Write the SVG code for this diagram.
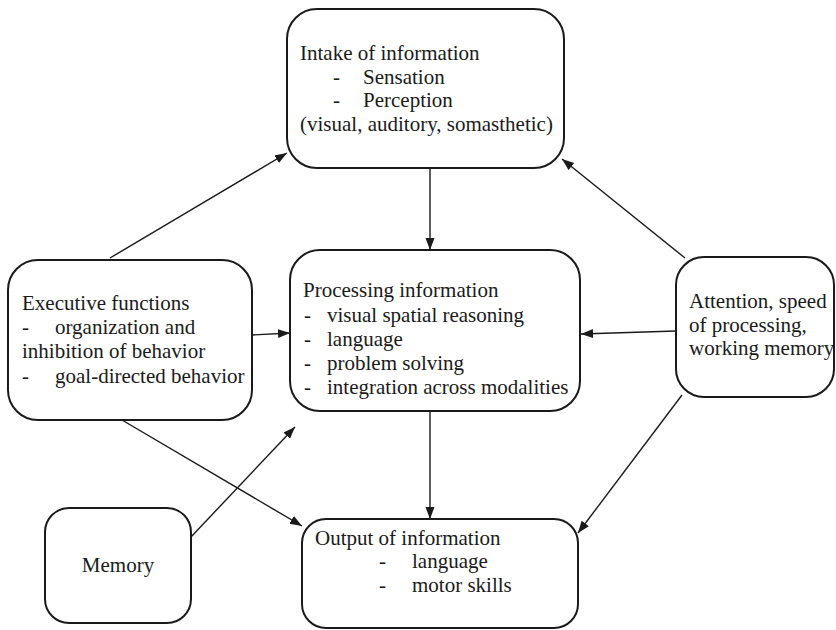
<svg xmlns="http://www.w3.org/2000/svg" width="836" height="630" viewBox="0 0 836 630">
<style>
.box{fill:#fff;stroke:#1a1a1a;stroke-width:2}
text{font-family:'Liberation Serif','DejaVu Serif',serif;font-size:21px;fill:#1a1a1a}
.c{stroke:#1a1a1a;stroke-width:1.4;fill:none;marker-end:url(#ah)}
</style>
<defs>
<marker id="ah" markerUnits="userSpaceOnUse" markerWidth="13" markerHeight="10" refX="12" refY="4.5" orient="auto">
<path d="M0,0 L12,4.5 L0,9 z" fill="#1a1a1a"/>
</marker>
</defs>
<rect width="836" height="630" fill="#fff"/>
<g id="connectors">
<line class="c" x1="110" y1="258" x2="287" y2="153"/>
<line class="c" x1="685" y1="258" x2="562" y2="159"/>
<line class="c" x1="430" y1="168" x2="430" y2="250"/>
<line class="c" x1="252" y1="335" x2="290" y2="333"/>
<line class="c" x1="676" y1="331" x2="581" y2="334"/>
<line class="c" x1="190" y1="538" x2="295" y2="427"/>
<line class="c" x1="122" y1="420" x2="302" y2="526"/>
<line class="c" x1="430" y1="411" x2="430" y2="519"/>
<line class="c" x1="682" y1="395" x2="578" y2="533"/>
</g>
<g id="intake" font-family="Liberation Serif, serif">
<rect class="box" x="287" y="9" width="277" height="159" rx="30" ry="30"/>
<text x="300" y="60">Intake of information</text>
<text x="333" y="84">-</text><text x="363" y="84">Sensation</text>
<text x="333" y="107">-</text><text x="363" y="107">Perception</text>
<text x="300" y="131">(visual, auditory, somasthetic)</text>
</g>
<g id="processing">
<rect class="box" x="290" y="250" width="290" height="161" rx="30" ry="30"/>
<text x="303" y="297">Processing information</text>
<text x="304" y="322">-</text><text x="327" y="322">visual spatial reasoning</text>
<text x="304" y="346">-</text><text x="327" y="346">language</text>
<text x="304" y="370">-</text><text x="327" y="370">problem solving</text>
<text x="304" y="394">-</text><text x="327" y="394">integration across modalities</text>
</g>
<g id="executive">
<rect class="box" x="8" y="260" width="244" height="160" rx="30" ry="30"/>
<text x="22" y="310">Executive functions</text>
<text x="22" y="334">-</text><text x="55" y="334">organization and</text>
<text x="22" y="358">inhibition of behavior</text>
<text x="22" y="383">-</text><text x="55" y="383">goal-directed behavior</text>
</g>
<g id="attention">
<rect class="box" x="676" y="257" width="158" height="140" rx="28" ry="28"/>
<text x="689" y="308">Attention, speed</text>
<text x="689" y="332">of processing,</text>
<text x="689" y="355">working memory</text>
</g>
<g id="memory">
<rect class="box" x="45" y="508" width="146" height="115" rx="24" ry="24"/>
<text x="118" y="572" text-anchor="middle">Memory</text>
</g>
<g id="output">
<rect class="box" x="302" y="519" width="276" height="109" rx="24" ry="24"/>
<text x="315" y="545">Output of information</text>
<text x="379" y="568">-</text><text x="412" y="568">language</text>
<text x="379" y="592">-</text><text x="412" y="592">motor skills</text>
</g>
</svg>
